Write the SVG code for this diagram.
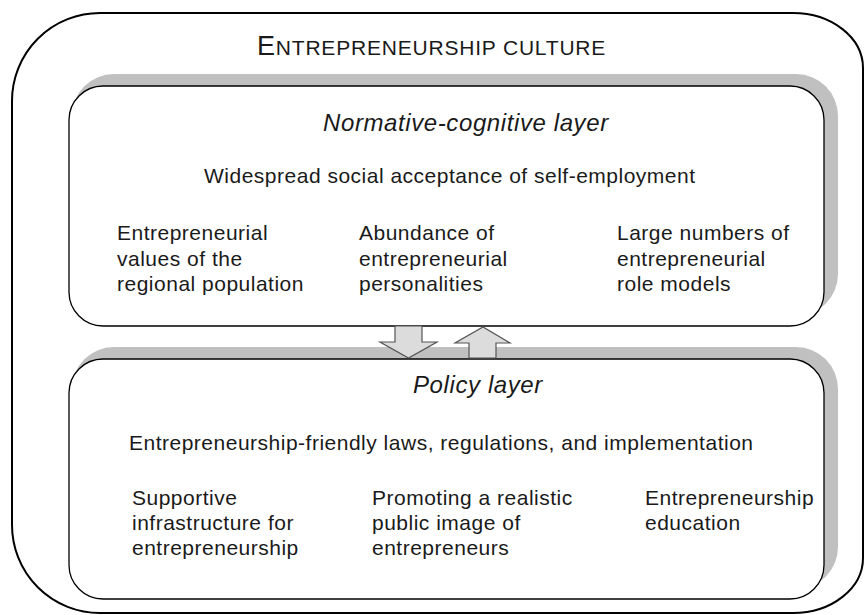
<svg xmlns="http://www.w3.org/2000/svg" width="865" height="615" viewBox="0 0 865 615">
<style>
  text { font-family: "Liberation Sans", Arial, sans-serif; fill: #1a1a1a; }
  .body { font-size: 21px; letter-spacing: 0.5px; }
  .ital { font-size: 24px; font-style: italic; letter-spacing: 0.6px; }
  .shadow { fill: #c0c0c0; stroke: none; }
  .box { fill: #ffffff; stroke: #000000; stroke-width: 1.3; }
  .outer { fill: #ffffff; stroke: #000000; stroke-width: 2; }
  .arrow { fill: #dcdcdc; stroke: #555555; stroke-width: 1.2; stroke-linejoin: miter; }
</style>
<rect width="865" height="615" fill="#ffffff"/>
<g id="culture">
  <path class="outer" d="M100,13 H793 A70,55 0 0 1 863,68 V558 A70,55 0 0 1 793,613 H100 A88,88 0 0 1 12,525 V101 A88,88 0 0 1 100,13 Z"/>
  <text x="257" y="55" style="letter-spacing:0.8px"><tspan font-size="27">E</tspan><tspan font-size="21">NTREPRENEURSHIP CULTURE</tspan></text>
</g>
<g id="normative-layer">
  <rect class="shadow" x="72" y="74" width="766" height="242" rx="42" ry="42"/>
  <rect class="box" x="69" y="86" width="755" height="240" rx="34" ry="34"/>
  <text class="ital" x="323" y="131">Normative-cognitive layer</text>
  <text class="body" x="204" y="183">Widespread social acceptance of self-employment</text>
  <text class="body" y="240"><tspan x="117">Entrepreneurial</tspan><tspan x="117" dy="25.5">values of the</tspan><tspan x="117" dy="25.5">regional population</tspan></text>
  <text class="body" y="240"><tspan x="359">Abundance of</tspan><tspan x="359" dy="25.5">entrepreneurial</tspan><tspan x="359" dy="25.5">personalities</tspan></text>
  <text class="body" y="240"><tspan x="617">Large numbers of</tspan><tspan x="617" dy="25.5">entrepreneurial</tspan><tspan x="617" dy="25.5">role models</tspan></text>
</g>
<g id="policy-layer">
  <rect class="shadow" x="72" y="347" width="766" height="242" rx="42" ry="42"/>
  <rect class="box" x="69" y="359" width="755" height="240" rx="34" ry="34"/>
  <text class="ital" x="413" y="393">Policy layer</text>
  <text class="body" x="129" y="450">Entrepreneurship-friendly laws, regulations, and implementation</text>
  <text class="body" y="505"><tspan x="132">Supportive</tspan><tspan x="132" dy="25">infrastructure for</tspan><tspan x="132" dy="25">entrepreneurship</tspan></text>
  <text class="body" y="505"><tspan x="372">Promoting a realistic</tspan><tspan x="372" dy="25">public image of</tspan><tspan x="372" dy="25">entrepreneurs</tspan></text>
  <text class="body" y="505"><tspan x="645">Entrepreneurship</tspan><tspan x="645" dy="25">education</tspan></text>
</g>
<g id="connectors">
  <polygon class="arrow" points="395,326 422,326 422,342 437,342 408.5,358 380,342 395,342"/>
  <polygon class="arrow" points="469,358 496,358 496,343 510,343 483,327 455,343 469,343"/>
</g>
</svg>
